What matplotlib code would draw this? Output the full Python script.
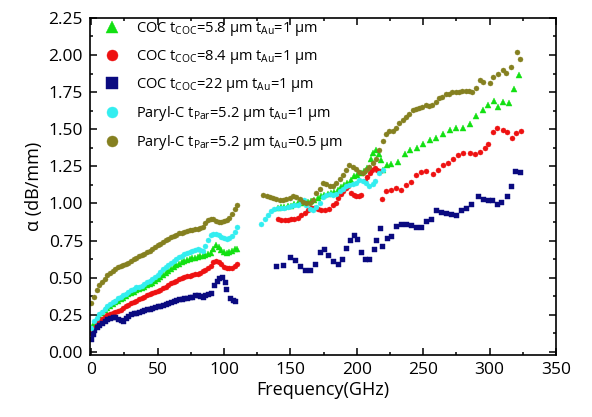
import matplotlib
matplotlib.use('Agg')
import matplotlib.pyplot as plt
from matplotlib.ticker import MultipleLocator

plt.rcParams['font.family'] = ['Open Sans', 'DejaVu Sans']
plt.rcParams['mathtext.fontset'] = 'custom'
plt.rcParams['mathtext.rm'] = 'Open Sans'

# ── data (frequency in GHz, alpha in dB/mm) ──
f_lo = [0, 2, 4, 6, 8, 10, 12, 14, 16, 18, 20, 22, 24, 26, 28, 30, 32, 34, 36, 38,
        40, 42, 44, 46, 48, 50, 52, 54, 56, 58, 60, 62, 64, 66, 68, 70, 72, 74, 76, 78,
        80, 82, 84, 86, 88, 90, 92, 94, 96, 98, 100, 102, 104, 106, 108, 110]

coc58_lo = [0.155, 0.195, 0.222, 0.245, 0.263, 0.280, 0.295, 0.310, 0.322, 0.333,
            0.344, 0.355, 0.365, 0.377, 0.388, 0.397, 0.406, 0.414, 0.422, 0.431,
            0.440, 0.450, 0.458, 0.467, 0.477, 0.490, 0.503, 0.517, 0.532, 0.548,
            0.556, 0.575, 0.585, 0.595, 0.603, 0.612, 0.620, 0.625, 0.630, 0.635,
            0.640, 0.644, 0.647, 0.652, 0.658, 0.668, 0.690, 0.720, 0.708, 0.685,
            0.670, 0.668, 0.675, 0.683, 0.690, 0.690]
coc84_lo = [0.125, 0.160, 0.185, 0.205, 0.222, 0.235, 0.246, 0.255, 0.262, 0.268,
            0.273, 0.280, 0.293, 0.308, 0.318, 0.327, 0.336, 0.345, 0.354, 0.362,
            0.370, 0.380, 0.388, 0.395, 0.401, 0.410, 0.420, 0.430, 0.438, 0.448,
            0.462, 0.472, 0.480, 0.490, 0.497, 0.503, 0.508, 0.512, 0.517, 0.522,
            0.528, 0.534, 0.542, 0.552, 0.563, 0.580, 0.605, 0.614, 0.607, 0.592,
            0.573, 0.565, 0.565, 0.568, 0.582, 0.590]
par1_lo = [0.160, 0.205, 0.230, 0.253, 0.272, 0.290, 0.307, 0.321, 0.334, 0.345,
           0.360, 0.372, 0.382, 0.393, 0.403, 0.415, 0.427, 0.434, 0.440, 0.447,
           0.460, 0.471, 0.480, 0.492, 0.503, 0.520, 0.535, 0.556, 0.575, 0.586,
           0.600, 0.612, 0.624, 0.636, 0.648, 0.658, 0.667, 0.676, 0.681, 0.687,
           0.692, 0.688, 0.681, 0.712, 0.757, 0.787, 0.793, 0.792, 0.786, 0.777,
           0.767, 0.758, 0.765, 0.780, 0.808, 0.840]
par05_lo = [0.330, 0.370, 0.420, 0.450, 0.470, 0.490, 0.515, 0.530, 0.545, 0.556,
            0.570, 0.580, 0.588, 0.595, 0.602, 0.615, 0.625, 0.633, 0.643, 0.652,
            0.660, 0.670, 0.680, 0.695, 0.707, 0.718, 0.728, 0.740, 0.752, 0.761,
            0.775, 0.783, 0.790, 0.798, 0.803, 0.808, 0.814, 0.819, 0.823, 0.828,
            0.831, 0.835, 0.842, 0.870, 0.887, 0.897, 0.893, 0.882, 0.877, 0.875,
            0.882, 0.890, 0.905, 0.930, 0.960, 0.990]

f_coc22_lo = [0, 1, 2, 4, 6, 8, 10, 12, 14, 16, 18, 20, 22, 24, 26, 28, 30, 32, 34, 36,
              38, 40, 42, 44, 46, 48, 50, 52, 54, 56, 58, 60, 62, 64, 66, 68, 70, 72, 74,
              76, 78, 80, 82, 84, 86, 88, 90, 92.4, 94.5, 96, 98.5, 100.5, 101.7, 104.3,
              106.8, 108.5]
coc22_lo = [0.085, 0.120, 0.145, 0.165, 0.180, 0.195, 0.210, 0.220, 0.228, 0.233,
            0.232, 0.224, 0.214, 0.210, 0.228, 0.243, 0.252, 0.259, 0.265, 0.270,
            0.275, 0.280, 0.286, 0.291, 0.296, 0.302, 0.307, 0.312, 0.318, 0.322,
            0.328, 0.336, 0.345, 0.350, 0.355, 0.358, 0.362, 0.365, 0.368, 0.373,
            0.380, 0.386, 0.378, 0.368, 0.382, 0.390, 0.395, 0.453, 0.480, 0.498,
            0.502, 0.470, 0.424, 0.360, 0.347, 0.345]

f_coc58_hi = [140.5, 143, 145.5, 148, 150.5, 153, 155.5, 158, 160.5, 163, 165.5, 168,
              170.5, 173, 175.5, 178, 180.5, 183, 185.5, 188, 190.5, 193, 195.5, 198,
              200.5, 203, 205.5, 208, 210.5, 212.5, 214.5, 216.5, 218, 219.5, 222.5, 226,
              231, 236, 240, 245, 250, 255, 260, 265, 270, 275, 280, 285, 290, 295, 299,
              303, 306.5, 310.5, 315, 318.5, 322.5]
coc58_hi = [0.971, 0.975, 0.978, 0.980, 0.985, 0.995, 1.000, 1.004, 1.008, 1.012,
            1.015, 1.025, 1.040, 1.050, 1.060, 1.065, 1.068, 1.075, 1.090, 1.110,
            1.127, 1.140, 1.160, 1.183, 1.195, 1.206, 1.220, 1.240, 1.300, 1.340,
            1.362, 1.330, 1.295, 1.228, 1.260, 1.264, 1.279, 1.333, 1.362, 1.377,
            1.400, 1.430, 1.440, 1.467, 1.496, 1.507, 1.511, 1.534, 1.592, 1.630,
            1.663, 1.690, 1.650, 1.685, 1.674, 1.770, 1.868]

f_coc84_hi = [140.7, 143, 145.7, 148, 150.7, 153, 155.7, 158, 160.7, 163, 165.7, 168,
              170.5, 173.3, 176, 179, 182, 184, 186, 188, 189.6, 191.5, 193.4, 195.9,
              197.8, 199.7, 201.6, 203.5, 205.9, 207.8, 209.6, 211.5, 213.5, 215.5,
              217.3, 219.2, 222.2, 226, 229.8, 233.6, 237.3, 241.1, 244.9, 248.7, 252.5,
              257.5, 261.3, 265, 268.9, 272.7, 276.5, 280.2, 285.2, 289, 292.8, 296.6,
              299.1, 302.9, 305.9, 310, 313.5, 316.8, 320, 323.5]
coc84_hi = [0.893, 0.890, 0.886, 0.890, 0.893, 0.898, 0.904, 0.920, 0.938, 0.955,
            0.967, 0.968, 0.965, 0.953, 0.955, 0.962, 0.989, 1.005, 1.038, 1.065,
            1.087, 1.105, 1.116, 1.071, 1.058, 1.049, 1.052, 1.060, 1.149, 1.180,
            1.205, 1.225, 1.240, 1.228, 1.216, 1.027, 1.083, 1.090, 1.101, 1.094,
            1.127, 1.145, 1.194, 1.212, 1.217, 1.200, 1.228, 1.257, 1.273, 1.302,
            1.324, 1.340, 1.340, 1.330, 1.350, 1.373, 1.400, 1.480, 1.510, 1.496,
            1.480, 1.444, 1.473, 1.489]

f_coc22_hi = [139.4, 144.4, 149.4, 153.2, 157, 160.7, 164.5, 168.3, 172, 175, 178.3,
              182.1, 185.8, 189.1, 192.1, 194.6, 197.6, 200.1, 203.4, 205.9, 209.2,
              212.7, 214.7, 217.7, 219.2, 222.7, 226, 229.8, 233.6, 237.3, 241.1, 244.9,
              248.7, 252.4, 256.2, 260, 263.8, 267.5, 271.3, 275.1, 278.8, 282.6, 286.4,
              291.4, 295.2, 299, 302.2, 305.8, 309, 312.8, 316.5, 319.5, 323.3]
coc22_hi = [0.580, 0.587, 0.640, 0.620, 0.580, 0.551, 0.551, 0.592, 0.670, 0.690,
            0.654, 0.614, 0.592, 0.625, 0.700, 0.757, 0.790, 0.763, 0.670, 0.625,
            0.625, 0.690, 0.757, 0.835, 0.714, 0.770, 0.780, 0.849, 0.864, 0.864,
            0.855, 0.842, 0.842, 0.882, 0.893, 0.954, 0.945, 0.938, 0.927, 0.922,
            0.954, 0.967, 0.994, 1.050, 1.028, 1.021, 1.021, 0.994, 1.012, 1.050,
            1.117, 1.218, 1.214]

f_par1_hi = [128, 130.5, 133, 135.5, 138, 140.5, 143, 145.5, 148, 150.5, 153, 155.5,
             158, 160, 162, 164.5, 167, 169.5, 172, 174.5, 177, 179.5, 182, 184.5, 187,
             189.5, 192, 194.5, 197, 199.5, 202, 204.5, 207, 209.5, 212, 214, 216.5,
             219.5]
par1_hi = [0.864, 0.893, 0.922, 0.950, 0.962, 0.971, 0.970, 0.971, 0.975, 0.982,
           0.988, 0.993, 1.010, 1.020, 0.990, 0.965, 0.953, 0.975, 1.005, 1.042,
           1.058, 1.065, 1.060, 1.065, 1.082, 1.100, 1.115, 1.127, 1.130, 1.140,
           1.160, 1.150, 1.135, 1.116, 1.130, 1.150, 1.205, 1.228]

f_par05_hi = [129.5, 132, 134.5, 137, 139.5, 142, 144.5, 147, 149.5, 152, 154.5, 157,
              159.5, 162, 164.5, 167, 169.5, 172, 174.5, 177, 179.5, 182, 184.5, 187,
              189.5, 192, 194.5, 197, 199.5, 202, 204.5, 207, 209.5, 212, 214.5, 217,
              219.5, 222, 224.5, 227, 229.5, 232, 234.5, 237, 239.5, 242, 244.5, 247,
              249.5, 252, 254.5, 257, 259.5, 262, 264.5, 267, 269.5, 272, 274.5, 277,
              279.5, 282, 284.5, 287, 289.5, 292.6, 295.1, 300.1, 302.6, 306.4, 310.2,
              312.7, 316.5, 320.4, 322.9]
par05_hi = [1.056, 1.050, 1.045, 1.038, 1.030, 1.020, 1.022, 1.028, 1.040, 1.050,
            1.045, 1.030, 1.008, 1.000, 1.005, 1.025, 1.070, 1.100, 1.140, 1.130,
            1.117, 1.120, 1.140, 1.165, 1.190, 1.225, 1.260, 1.245, 1.230, 1.215,
            1.205, 1.225, 1.245, 1.270, 1.300, 1.360, 1.420, 1.470, 1.490, 1.485,
            1.510, 1.540, 1.560, 1.585, 1.600, 1.630, 1.635, 1.640, 1.650, 1.663,
            1.660, 1.663, 1.685, 1.708, 1.720, 1.735, 1.740, 1.748, 1.752, 1.750,
            1.755, 1.758, 1.755, 1.750, 1.780, 1.830, 1.820, 1.810, 1.850, 1.870,
            1.900, 1.878, 1.920, 2.020, 1.976]

labels = [r'COC t$_\mathregular{COC}$=5.8 µm t$_\mathregular{Au}$=1 µm',
          r'COC t$_\mathregular{COC}$=8.4 µm t$_\mathregular{Au}$=1 µm',
          r'COC t$_\mathregular{COC}$=22 µm t$_\mathregular{Au}$=1 µm',
          r'Paryl-C t$_\mathregular{Par}$=5.2 µm t$_\mathregular{Au}$=1 µm',
          r'Paryl-C t$_\mathregular{Par}$=5.2 µm t$_\mathregular{Au}$=0.5 µm']

series = [
    (f_lo + f_coc58_hi, coc58_lo + coc58_hi, '^', '#12e012'),
    (f_lo + f_coc84_hi, coc84_lo + coc84_hi, 'o', '#ee1111'),
    (f_coc22_lo + f_coc22_hi, coc22_lo + coc22_hi, 's', '#0a0a80'),
    (f_lo + f_par1_hi, par1_lo + par1_hi, 'o', '#33eef0'),
    (f_lo + f_par05_hi, par05_lo + par05_hi, 'o', '#858020'),
]

fig = plt.figure(figsize=(5.92, 4.17), dpi=100)
ax = fig.add_axes([0.152, 0.149, 0.787, 0.808])

for (x, y, m, c), lab in zip(series, labels):
    ms = 4.0 if m == '^' else 3.6
    ax.plot(x, y, ls='none', marker=m, ms=ms, color=c, mec=c, mew=0.3, label=lab)

ax.set_xlim(-1, 350)
ax.set_ylim(-0.02, 2.25)
ax.xaxis.set_major_locator(MultipleLocator(50))
ax.xaxis.set_minor_locator(MultipleLocator(25))
ax.yaxis.set_major_locator(MultipleLocator(0.25))
ax.yaxis.set_minor_locator(MultipleLocator(0.125))
ax.yaxis.set_major_formatter(matplotlib.ticker.FormatStrFormatter('%.2f'))
ax.tick_params(which='both', direction='in', top=True, right=True, width=1.1)
ax.tick_params(which='major', length=5, labelsize=12.5, pad=5)
ax.tick_params(which='minor', length=2.5)
for s in ax.spines.values():
    s.set_linewidth(1.2)

ax.set_xlabel('Frequency(GHz)', fontsize=13, labelpad=2)
ax.set_ylabel('α (dB/mm)', fontsize=13, labelpad=4)

ax.legend(loc='upper left', frameon=False, fontsize=10.5, markerscale=2.2,
          handletextpad=1.0, labelspacing=0.68, borderaxespad=0.0,
          handlelength=1.2, bbox_to_anchor=(0.017, 1.01))

fig.savefig('out.png', dpi=100)
